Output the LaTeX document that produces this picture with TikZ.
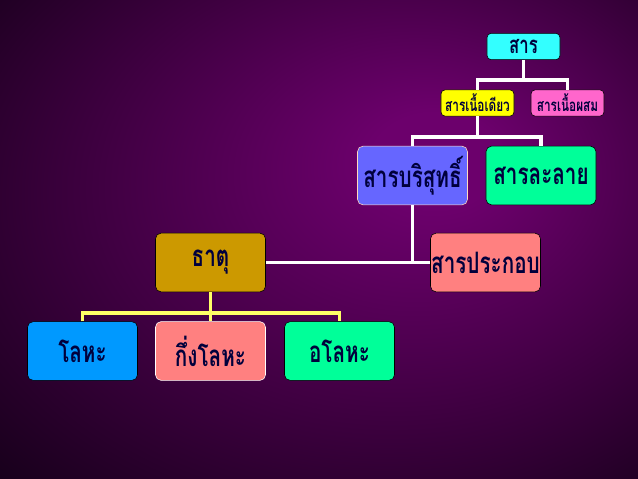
\documentclass[tikz,border=0pt]{standalone}
\usepackage{fontspec}
\newfontfamily\thaifont[Script=Thai, FakeStretch=0.7]{Loma}
\usepackage{tikz}
\usetikzlibrary{positioning}

\definecolor{bgmid}{RGB}{108,0,108}
\definecolor{bgedge}{RGB}{18,0,22}
\definecolor{inknavy}{RGB}{0,0,60}
\definecolor{boxcyan}{RGB}{51,255,255}
\definecolor{boxyellow}{RGB}{255,255,0}
\definecolor{boxpink}{RGB}{255,102,204}
\definecolor{boxviolet}{RGB}{102,102,255}
\definecolor{boxgreen}{RGB}{0,255,153}
\definecolor{boxgold}{RGB}{204,153,0}
\definecolor{boxsalmon}{RGB}{255,128,128}
\definecolor{boxblue}{RGB}{0,153,255}
\definecolor{wireyellow}{RGB}{255,255,102}
\definecolor{rimpeach}{RGB}{255,220,190}

\pgfdeclareradialshading{purpleglow}{\pgfpoint{10bp}{9bp}}{%
  color(0bp)=(bgmid); color(5bp)=(bgmid); color(42bp)=(bgedge); color(58bp)=(black)}

\begin{document}
\begin{tikzpicture}[
    x=0.025cm, y=-0.025cm,
    tag/.style={rectangle, rounded corners=3pt, draw=black, thin, text=inknavy, font=\thaifont\bfseries\fontsize{12}{14}\selectfont, minimum width=1.825cm, minimum height=0.66cm, inner sep=0pt},
    bigbox/.style={rectangle, rounded corners=4pt, draw=black, thin, text=inknavy, font=\thaifont\bfseries\fontsize{21}{24}\selectfont, minimum width=2.75cm, minimum height=1.47cm, inner sep=0pt},
    wire/.style={draw=white, line width=2.2pt},
    ywire/.style={draw=wireyellow, line width=2.2pt},
]

% background
\shade[shading=purpleglow] (0,0) rectangle (638,479);
\useasboundingbox (0,0) rectangle (638,479);

% Row 1 - top
\node[tag, fill=boxcyan, font=\thaifont\bfseries\fontsize{17}{19}\selectfont] (sar) at (523.5,46.5) {สาร};

% Row 2 - homogeneous / heterogeneous
\node[tag, fill=boxyellow] (homog) at (477.5,103) {สารเนื้อเดียว};
\node[tag, fill=boxpink] (heterog) at (567.5,103) {สารเนื้อผสม};

% Row 3 - pure substance / solution
\node[bigbox, fill=boxviolet, draw=rimpeach] (pure) at (412.5,175.5) {สารบริสุทธิ์};
\node[bigbox, fill=boxgreen] (solution) at (541,175.5) {สารละลาย};

% Row 4 - element / compound
\node[bigbox, fill=boxgold] (element) at (210.5,262.5) {ธาตุ};
\node[bigbox, fill=boxsalmon] (compound) at (485.5,262.5) {สารประกอบ};

% Row 5 - kinds of element
\node[bigbox, fill=boxblue] (metal) at (82.5,351) {โลหะ};
\node[bigbox, fill=boxsalmon, draw=white] (metalloid) at (210.5,351) {กึ่งโลหะ};
\node[bigbox, fill=boxgreen] (nonmetal) at (339.5,351) {อโลหะ};

% connectors
\coordinate (j1) at (523.5,80);
\coordinate (j2) at (477.5,137);
\coordinate (j4) at (210.5,313);

\draw[wire] (sar.south) -- (j1);
\draw[wire] (homog.north) -- (homog.north |- j1) -- (heterog.north |- j1) -- (heterog.north);

\draw[wire] (homog.south) -- (j2);
\draw[wire] (pure.north) -- (pure.north |- j2) -- (solution.north |- j2) -- (solution.north);

\draw[wire] (element.east) -- (compound.west);
\draw[wire] (pure.south) -- (pure.south |- element.east);

\draw[ywire] (element.south) -- (j4);
\draw[ywire] (metal.north) -- (metal.north |- j4) -- (nonmetal.north |- j4) -- (nonmetal.north);
\draw[ywire] (j4) -- (metalloid.north);

\end{tikzpicture}
\end{document}
